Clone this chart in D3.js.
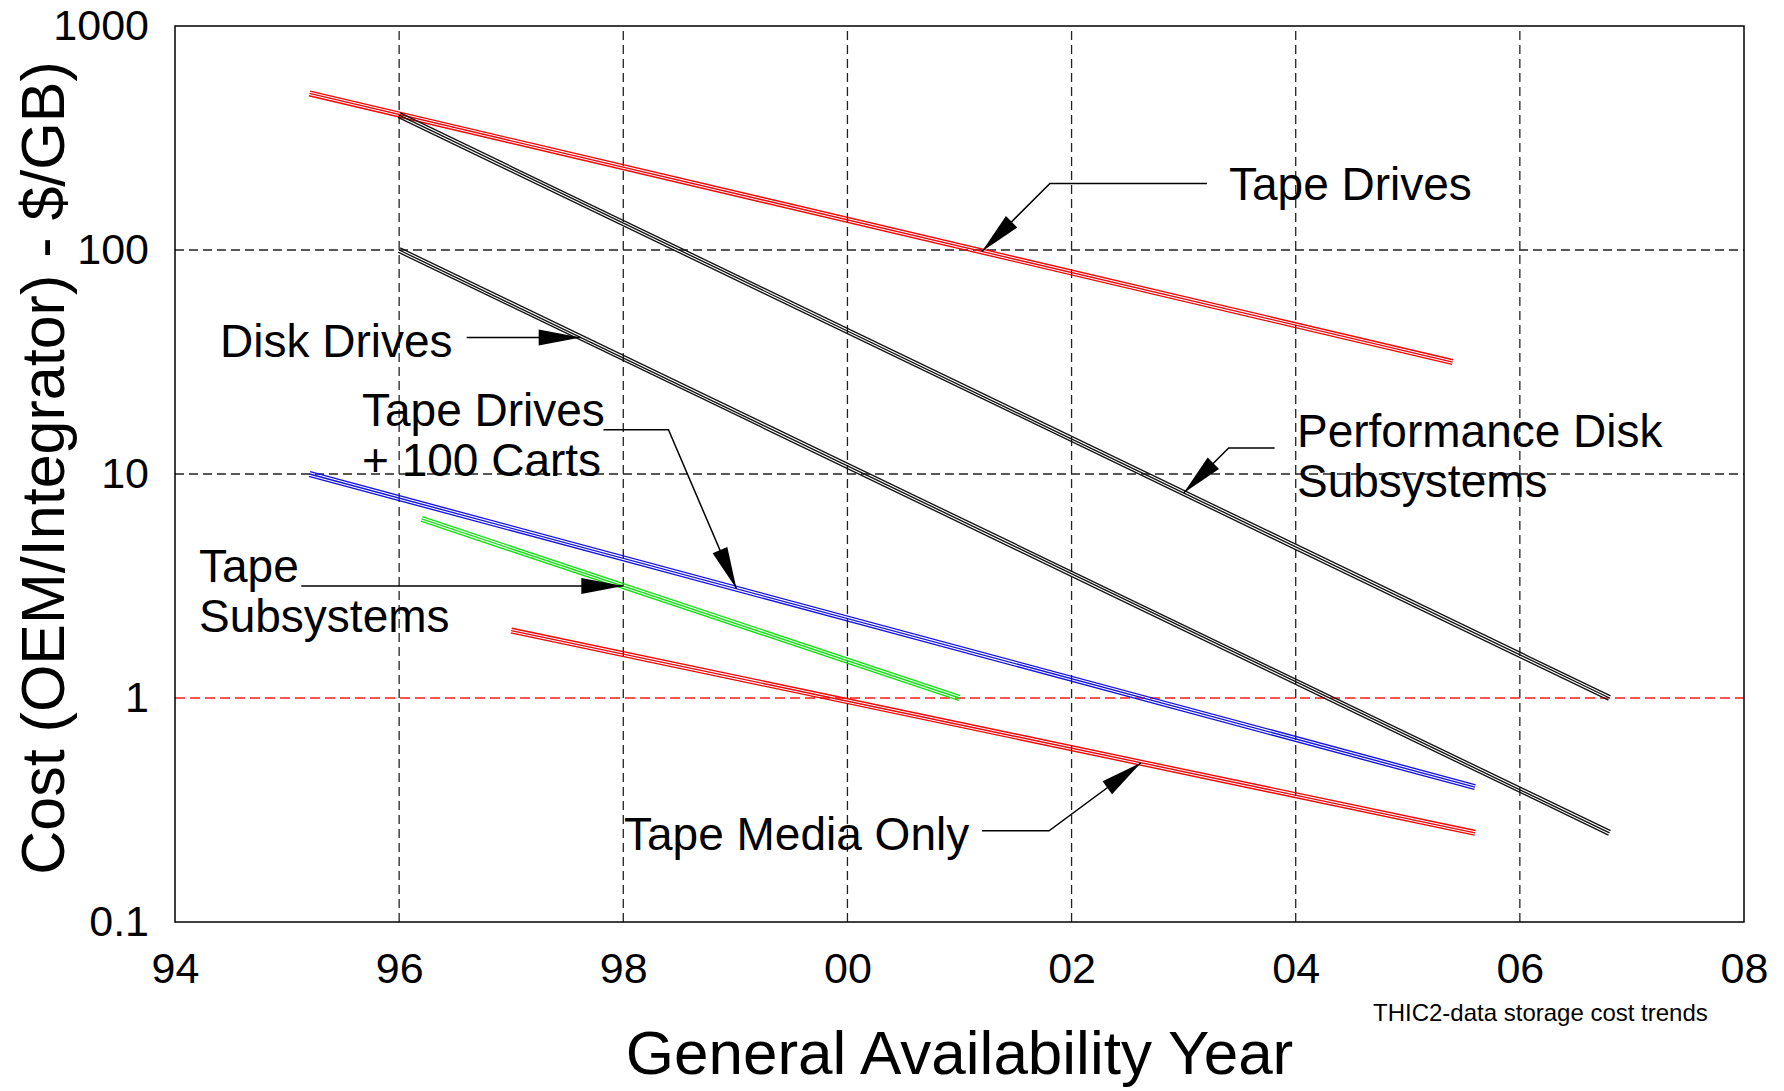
<!DOCTYPE html>
<html>
<head>
<meta charset="utf-8">
<script src="https://cdn.jsdelivr.net/npm/d3@7"></script>
<style>
  html, body { margin: 0; padding: 0; background: #fff; }
  svg { display: block; font-family: "Liberation Sans", Arial, sans-serif; }
</style>
</head>
<body>
<svg class="trend" width="1784" height="1091"></svg>
<script>
// cost trends ($/GB, log scale)
const seriesNames = ["Tape Drives", "Performance Disk Subsystems", "Disk Drives",
                     "Tape Drives + 100 Carts", "Tape Subsystems", "Tape Media Only"];
const seriesColors = ["#ff0000", "#111111", "#111111", "#1010f0", "#10e010", "#ff0000"];
const startYear = [1995.2, 1996.0, 1996.0, 1995.2, 1996.2, 1997.0];
const startCost = [500, 400, 100, 10, 6.3, 2.0];
const endYear   = [2005.4, 2006.8, 2006.8, 2005.6, 2001.0, 2005.6];
const endCost   = [31.6, 1.0, 0.25, 0.4, 1.0, 0.25];

const xTicks = [1994, 1996, 1998, 2000, 2002, 2004, 2006, 2008];
const yTicks = [0.1, 1, 10, 100, 1000];

// callouts: tip sits on a series at a given year, leader drawn back to the text
const callouts = [
  {series: 0, year: 2001.2, leader: [[68, -68], [225, -68]],
   lines: ["Tape Drives"], tx: 1229, ty: 184},
  {series: 2, year: 1997.62, leader: [[-114, 0]],
   lines: ["Disk Drives"], tx: 220, ty: 341},
  {series: 3, year: 1999.01, leader: [[-68, -159], [-133, -159]],
   lines: ["Tape Drives", "+ 100 Carts"], tx: 362, ty: 410},
  {series: 4, year: 1998.0, leader: [[-322, 0]],
   lines: ["Tape", "Subsystems"], tx: 199, ty: 566},
  {series: 1, year: 2003.0, leader: [[45, -45], [91, -45]],
   lines: ["Performance Disk", "Subsystems"], tx: 1297, ty: 431},
  {series: 5, year: 2002.62, leader: [[-92, 68], [-159, 68]],
   lines: ["Tape Media Only"], tx: 624, ty: 834}
];

const margin = {left: 175, right: 40, top: 26, bottom: 169};
const width = 1784, height = 1091;

const svg = d3.select('svg.trend');
svg.append('rect').attr('width', width).attr('height', height).attr('fill', '#fff');

const x = d3.scaleLinear()
            .domain([1994, 2008])
            .range([margin.left, width - margin.right]);
const y = d3.scaleLog()
            .domain([0.1, 1000])
            .range([height - margin.bottom, margin.top]);

// grid
const grid = svg.append('g').attr('class', 'grid');
grid.selectAll('line.vgrid')
  .data(xTicks.slice(1, -1))
  .enter().append('line')
  .attr('class', 'vgrid')
  .attr('x1', d => x(d)).attr('x2', d => x(d))
  .attr('y1', y(0.1)).attr('y2', y(1000))
  .attr('stroke', '#222').attr('stroke-width', 1.3)
  .attr('stroke-dasharray', '9,5');

grid.selectAll('line.hgrid')
  .data(yTicks.slice(1, -1))
  .enter().append('line')
  .attr('class', 'hgrid')
  .attr('x1', x(1994)).attr('x2', x(2008))
  .attr('y1', d => y(d)).attr('y2', d => y(d))
  .attr('stroke', d => d === 1 ? '#ff1a1a' : '#222')
  .attr('stroke-width', 1.3)
  .attr('stroke-dasharray', d => d === 1 ? '10,5' : '9,5');

// series, each drawn as three thin parallel strokes
const line = d3.line().x(d => x(d[0])).y(d => y(d[1]));
const offs = [-2.4, 0, 2.4];

seriesNames.forEach((name, i) => {
  const pts = [[startYear[i], startCost[i]], [endYear[i], endCost[i]]];
  const dx = x(pts[1][0]) - x(pts[0][0]);
  const dy = y(pts[1][1]) - y(pts[0][1]);
  const len = Math.sqrt(dx * dx + dy * dy);
  const nx = -dy / len, ny = dx / len;
  const g = svg.append('g').attr('class', 'series');
  g.selectAll('path')
    .data(offs)
    .enter().append('path')
    .attr('d', line(pts))
    .attr('transform', k => `translate(${nx * k}, ${ny * k})`)
    .attr('fill', 'none')
    .attr('stroke', seriesColors[i])
    .attr('stroke-width', 1.35);
});

// value of a series at a given year (straight on the log scale)
function costAt(i, yr) {
  const t = (yr - startYear[i]) / (endYear[i] - startYear[i]);
  return Math.exp(Math.log(startCost[i]) + t * (Math.log(endCost[i]) - Math.log(startCost[i])));
}

// callouts
const ann = svg.append('g').attr('class', 'callouts');
callouts.forEach(c => {
  const tipX = x(c.year), tipY = y(costAt(c.series, c.year));
  const pts = [[tipX, tipY]].concat(c.leader.map(p => [tipX + p[0], tipY + p[1]]));
  ann.append('path')
    .attr('d', d3.line()(pts))
    .attr('fill', 'none')
    .attr('stroke', '#000')
    .attr('stroke-width', 1.5);

  // arrowhead pointing at the tip
  const ux = pts[1][0] - tipX, uy = pts[1][1] - tipY;
  const ul = Math.sqrt(ux * ux + uy * uy);
  const ax = ux / ul, ay = uy / ul;
  const headLen = 42, headW = 8;
  const bx = tipX + ax * headLen, by = tipY + ay * headLen;
  ann.append('path')
    .attr('d', `M${tipX},${tipY}L${bx - ay * headW},${by + ax * headW}L${bx + ay * headW},${by - ax * headW}Z`)
    .attr('fill', '#000');

  const t = ann.append('text')
    .attr('x', c.tx).attr('y', c.ty)
    .style('font-size', '46px')
    .attr('fill', '#000');
  t.selectAll('tspan')
    .data(c.lines)
    .enter().append('tspan')
    .attr('x', c.tx)
    .attr('y', (d, i) => c.ty + i * 50)
    .attr('dy', '0.35em')
    .text(d => d);
});

// frame
svg.append('rect')
  .attr('x', x(1994)).attr('y', y(1000))
  .attr('width', x(2008) - x(1994)).attr('height', y(0.1) - y(1000))
  .attr('fill', 'none').attr('stroke', '#000').attr('stroke-width', 1.5);

// axes
const xAxis = svg.append('g')
  .attr('transform', `translate(0, ${y(0.1)})`)
  .call(d3.axisBottom(x).tickValues(xTicks).tickSize(0).tickPadding(30)
          .tickFormat(d => String(d % 100).padStart(2, '0')));
const yAxis = svg.append('g')
  .attr('transform', `translate(${x(1994)}, 0)`)
  .call(d3.axisLeft(y).tickValues(yTicks).tickSize(0).tickPadding(26)
          .tickFormat(d => String(d)));
[xAxis, yAxis].forEach(a => {
  a.select('.domain').remove();
  a.selectAll('text')
    .style('font-family', '"Liberation Sans", Arial, sans-serif')
    .style('font-size', '43px')
    .attr('fill', '#000');
});

// titles
svg.append('text')
  .attr('x', (x(1994) + x(2008)) / 2).attr('y', 1052)
  .attr('dy', '0.35em')
  .attr('text-anchor', 'middle')
  .style('font-size', '62px')
  .text('General Availability Year');

svg.append('text')
  .attr('transform', `translate(43, ${(y(0.1) + y(1000)) / 2 - 6}) rotate(-90)`)
  .attr('dy', '0.35em')
  .attr('text-anchor', 'middle')
  .style('font-size', '61px')
  .text('Cost (OEM/Integrator) - $/GB)');

svg.append('text')
  .attr('x', 1373).attr('y', 1021)
  .style('font-size', '24px')
  .text('THIC2-data storage cost trends');
</script>
</body>
</html>
